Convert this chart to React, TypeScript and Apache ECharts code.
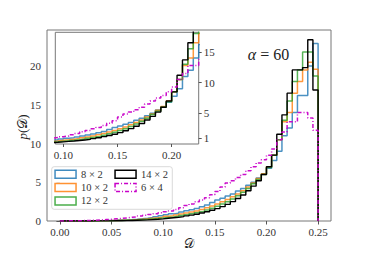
import React, { useEffect, useRef } from 'react';
import * as echarts from 'echarts';

// histogram bin width (bins start at 0)
const BIN = 0.005;

const seriesNames = ['8 × 2', '10 × 2', '12 × 2', '14 × 2', '6 × 4'];
const seriesColors = ['#1f77b4', '#ff7f0e', '#2ca02c', '#000000', '#c800c8'];

// density per bin, bins [0,0.005), [0.005,0.01), ... [0.245,0.25]
const p8x2 = [
  0, 0, 0, 0.01, 0.01, 0.02, 0.03, 0.04, 0.05, 0.07, 0.09, 0.12, 0.15, 0.19, 0.24, 0.3, 0.37, 0.45, 0.55, 0.67,
  0.8, 0.92, 1.0, 1.15, 1.32, 1.45, 1.62, 1.85, 2.05, 2.38,
  2.7, 2.92, 3.22, 3.5, 3.88, 4.2, 4.62, 5.0, 5.55, 6.05,
  6.8, 7.8, 9.0, 11.0, 12.0, 14.0, 16.2, 16.2, 20.0, 22.9,
];
const p10x2 = [
  0, 0, 0, 0, 0.01, 0.01, 0.02, 0.03, 0.04, 0.05, 0.07, 0.09, 0.11, 0.14, 0.18, 0.23, 0.28, 0.35, 0.42, 0.5,
  0.6, 0.68, 0.79, 0.9, 1.02, 1.16, 1.3, 1.5, 1.72, 1.95,
  2.2, 2.5, 2.78, 3.12, 3.5, 3.9, 4.38, 4.9, 5.5, 6.1,
  7.0, 8.5, 10.5, 12.8, 14.0, 16.5, 18.0, 19.5, 20.5, 19.6,
];
const p12x2 = [
  0, 0, 0, 0, 0, 0.01, 0.01, 0.02, 0.03, 0.04, 0.05, 0.07, 0.09, 0.11, 0.14, 0.18, 0.22, 0.27, 0.32, 0.38,
  0.45, 0.52, 0.6, 0.7, 0.8, 0.93, 1.05, 1.2, 1.42, 1.65,
  1.9, 2.2, 2.5, 2.85, 3.25, 3.72, 4.2, 4.8, 5.35, 6.0,
  6.9, 8.5, 10.5, 13.0, 15.5, 18.0, 19.5, 21.8, 21.8, 18.7,
];
const p14x2 = [
  0, 0, 0, 0, 0, 0, 0.01, 0.01, 0.02, 0.02, 0.03, 0.04, 0.05, 0.07, 0.09, 0.11, 0.14, 0.18, 0.22, 0.28,
  0.35, 0.42, 0.48, 0.56, 0.66, 0.76, 0.88, 1.03, 1.2, 1.38,
  1.6, 1.85, 2.15, 2.5, 2.9, 3.35, 3.9, 4.5, 5.2, 6.0,
  7.0, 8.5, 11.2, 13.7, 16.5, 19.5, 19.5, 19.8, 23.4, 16.9,
];
const p6x4 = [
  0.01, 0.02, 0.03, 0.04, 0.06, 0.08, 0.1, 0.14, 0.18, 0.22, 0.28, 0.33, 0.4, 0.48, 0.55, 0.65, 0.75, 0.85, 0.95, 1.05,
  1.2, 1.3, 1.5, 1.7, 2.0, 2.2, 2.5, 2.7, 3.0, 3.4,
  3.8, 4.4, 4.9, 5.2, 5.6, 6.0, 6.5, 7.0, 7.5, 7.9,
  8.5, 9.3, 10.5, 11.5, 12.8, 12.8, 14.0, 14.0, 13.3, 11.7,
];
const seriesValues = [p8x2, p10x2, p12x2, p14x2, p6x4];

const xTicks = [0, 0.05, 0.1, 0.15, 0.2, 0.25];
const yTicks = [0, 5, 10, 15, 20];
const insetXTicks = [0.1, 0.15, 0.2];
const insetYTicks = [1, 5, 10, 15];

const SERIF = "'Liberation Serif', 'DejaVu Serif', serif";

function stepPoints(vals: number[]): number[][] {
  const pts: number[][] = [[0, 0]];
  vals.forEach((v, i) => pts.push([i * BIN, v]));
  const end = vals.length * BIN;
  pts.push([end, vals[vals.length - 1]]);
  pts.push([end, 0]);
  return pts;
}

export default function App() {
  const ref = useRef<HTMLDivElement>(null);
  useEffect(() => {
    if (!ref.current) return;
    const chart = echarts.init(ref.current, undefined, { renderer: 'svg' });

    const lineStyleFor = (i: number) => ({
      color: seriesColors[i],
      width: i === 3 ? 1.4 : 1.5,
      opacity: i === 3 ? 1 : i === 4 ? 0.95 : 0.8,
      type: i === 4 ? [4, 2, 1, 2] : 'solid',
    });

    const mainSeries = seriesNames.map((name, i) => ({
      type: 'line',
      name,
      xAxisIndex: 0,
      yAxisIndex: 0,
      data: stepPoints(seriesValues[i]),
      step: 'end',
      symbol: 'none',
      showSymbol: false,
      clip: true,
      silent: true,
      z: 2,
      itemStyle: { color: seriesColors[i] },
      lineStyle: lineStyleFor(i),
    }));
    const insetSeries = seriesNames.map((name, i) => ({
      type: 'line',
      name,
      xAxisIndex: 1,
      yAxisIndex: 1,
      data: stepPoints(seriesValues[i]),
      step: 'start',
      symbol: 'none',
      showSymbol: false,
      clip: true,
      silent: true,
      z: 12,
      itemStyle: { color: seriesColors[i] },
      lineStyle: lineStyleFor(i),
    }));

    const legendItem = (i: number) => ({
      name: seriesNames[i],
      icon: 'rect',
      itemStyle: {
        color: 'rgba(255,255,255,0)',
        borderColor: seriesColors[i],
        borderWidth: 1.5,
        borderType: i === 4 ? [4, 2, 1, 2] : 'solid',
        opacity: i === 3 || i === 4 ? 1 : 0.85,
      },
    });
    const legendBase = {
      orient: 'vertical',
      top: 168.3,
      padding: 0,
      itemGap: 1.3,
      itemWidth: 21,
      itemHeight: 8,
      selectedMode: false,
      textStyle: { fontFamily: SERIF, fontSize: 10.5, color: '#333', lineHeight: 12 },
      z: 5,
    };

    const tickStyle = { color: '#555', width: 1 };
    const labelBase = { fontFamily: SERIF, fontSize: 11, color: '#333' };

    chart.setOption({
      animation: false,
      backgroundColor: '#fff',
      grid: [
        { left: 47, right: 37, top: 30, bottom: 32, show: true, borderColor: '#777', borderWidth: 1, backgroundColor: 'transparent' },
        { left: 55.3, right: 169.3, top: 32.3, bottom: 109, show: true, borderColor: '#777', borderWidth: 1, backgroundColor: '#fff', z: 10 },
      ],
      xAxis: [
        {
          type: 'value', gridIndex: 0, min: -0.0125, max: 0.2625,
          axisLine: { show: false }, splitLine: { show: false },
          axisTick: { show: true, length: 3.5, lineStyle: tickStyle, customValues: xTicks },
          axisLabel: { ...labelBase, margin: 5, customValues: xTicks, formatter: (v: number) => v.toFixed(2) },
        },
        {
          type: 'value', gridIndex: 1, min: 0.0925, max: 0.225, z: 11,
          axisLine: { show: false }, splitLine: { show: false },
          axisTick: { show: true, length: 3, lineStyle: tickStyle, customValues: insetXTicks },
          axisLabel: { ...labelBase, margin: 5, customValues: insetXTicks, formatter: (v: number) => v.toFixed(2) },
        },
      ],
      yAxis: [
        {
          type: 'value', gridIndex: 0, min: 0, max: 24.65,
          axisLine: { show: false }, splitLine: { show: false },
          axisTick: { show: true, length: 3.5, lineStyle: tickStyle, customValues: yTicks },
          axisLabel: { ...labelBase, margin: 6, customValues: yTicks, formatter: (v: number) => String(v) },
        },
        {
          type: 'value', gridIndex: 1, min: 0, max: 18.2, position: 'right', z: 11,
          axisLine: { show: false }, splitLine: { show: false },
          axisTick: { show: true, length: 3, lineStyle: tickStyle, customValues: insetYTicks },
          axisLabel: { ...labelBase, margin: 5, customValues: insetYTicks, formatter: (v: number) => String(v) },
        },
      ],
      legend: [
        { ...legendBase, left: 54.3, data: [0, 1, 2].map(legendItem) },
        { ...legendBase, left: 114.3, data: [3, 4].map(legendItem) },
      ],
      graphic: [
        {
          type: 'rect', z: 3,
          shape: { x: 51.7, y: 166.7, width: 120.6, height: 42.6, r: 2.5 },
          style: { fill: 'rgba(255,255,255,0.85)', stroke: '#d0d0d0', lineWidth: 0.8 },
        },
        {
          type: 'text', x: 268.5, y: 54, z: 5,
          style: {
            text: '{a|α} = 60',
            rich: { a: { fontStyle: 'italic', fontSize: 16, fontFamily: SERIF, fill: '#222' } },
            fontSize: 16, fontFamily: SERIF, fill: '#222', align: 'center', verticalAlign: 'middle',
          },
        },
        {
          type: 'text', x: 189, y: 243, z: 5,
          style: { text: '𝒟', fontSize: 13, fontFamily: SERIF, fill: '#222', align: 'center', verticalAlign: 'middle' },
        },
        {
          type: 'text', x: 22, y: 127, rotation: Math.PI / 2, z: 5,
          style: {
            text: '{i|p}(𝒟)',
            rich: { i: { fontStyle: 'italic', fontSize: 13, fontFamily: SERIF, fill: '#222' } },
            fontSize: 13, fontFamily: SERIF, fill: '#222', align: 'center', verticalAlign: 'middle',
          },
        },
      ],
      series: [...mainSeries, ...insetSeries],
    });
    return () => chart.dispose();
  }, []);
  return <div ref={ref} style={{ position: 'absolute', left: 0, top: 0, width: 368, height: 253 }} />;
}
